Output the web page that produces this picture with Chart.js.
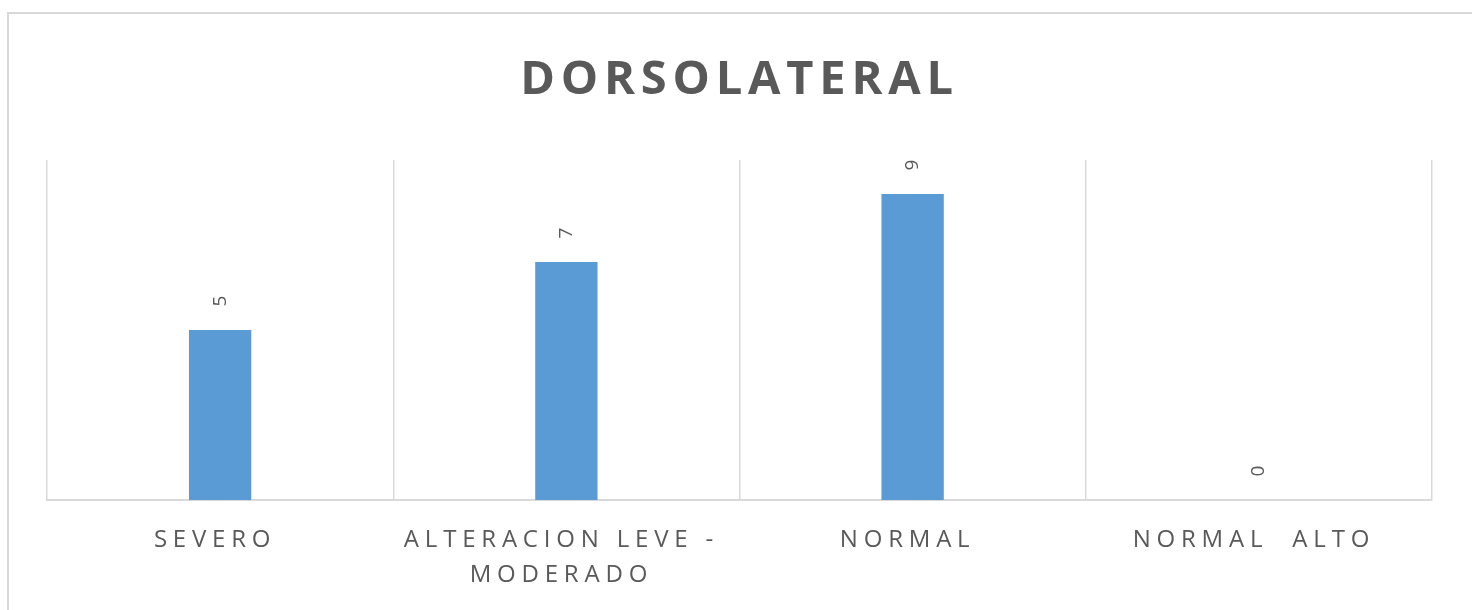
<!DOCTYPE html>
<html>
<head>
<meta charset="utf-8">
<script src="https://cdn.jsdelivr.net/npm/chart.js@4.4.0/dist/chart.umd.min.js"></script>
<style>
  html, body { margin: 0; padding: 0; background: #ffffff; }
  #wrap { width: 1472px; height: 610px; position: relative; }
</style>
</head>
<body>
<div id="wrap"><canvas id="c"></canvas></div>
<script>
const chartTitle = 'DORSOLATERAL';
const categories = ['SEVERO', ['ALTERACION LEVE -', 'MODERADO'], 'NORMAL', 'NORMAL  ALTO'];
const values = [5, 7, 9, 0];
const yMin = 0;
const yMax = 10;

const TEXT = '#595959';
const LINE = '#d9d9d9';
const BAR = '#5b9bd5';

const spacingPlugin = {
  id: 'spacing',
  beforeUpdate(chart) { chart.ctx.letterSpacing = '5.8px'; },
  beforeDraw(chart) {
    const ctx = chart.ctx;
    ctx.letterSpacing = '5.8px';
    ctx.save();
    ctx.strokeStyle = LINE;
    ctx.lineWidth = 2;
    ctx.strokeRect(8, 13, 1500, 700);
    ctx.restore();
  }
};

const valueLabels = {
  id: 'valueLabels',
  afterDatasetsDraw(chart) {
    const ctx = chart.ctx;
    const meta = chart.getDatasetMeta(0);
    ctx.save();
    ctx.letterSpacing = '0px';
    ctx.fillStyle = TEXT;
    ctx.font = '19px "Open Sans"';
    ctx.textAlign = 'center';
    ctx.textBaseline = 'middle';
    meta.data.forEach((bar, i) => {
      ctx.save();
      ctx.translate(bar.x, bar.y - 29);
      ctx.rotate(-Math.PI / 2);
      ctx.fillText(String(values[i]), 0, 0);
      ctx.restore();
    });
    ctx.restore();
  }
};

const chart = new Chart(document.getElementById('c'), {
  type: 'bar',
  data: {
    labels: categories,
    datasets: [{
      data: values,
      backgroundColor: BAR,
      borderWidth: 0,
      barPercentage: 0.9,
      categoryPercentage: 0.2
    }]
  },
  options: {
    responsive: true,
    maintainAspectRatio: false,
    animation: false,
    layout: { padding: { left: 47, right: 40, top: 0, bottom: 0 } },
    plugins: {
      legend: { display: false },
      tooltip: { enabled: false },
      title: {
        display: true,
        text: chartTitle,
        color: TEXT,
        font: { family: '"Open Sans"', size: 47, weight: 'bold', lineHeight: 1.2 },
        padding: { top: 52, bottom: 51.6 }
      }
    },
    scales: {
      x: {
        grid: { display: true, color: LINE, lineWidth: 1.5, offset: true, drawTicks: false },
        border: { display: true, color: LINE, width: 2 },
        ticks: {
          color: TEXT,
          font: { family: '"Open Sans"', size: 24, lineHeight: 1.46 },
          padding: 23,
          labelOffset: -5,
          maxRotation: 0,
          minRotation: 0,
          autoSkip: false
        },
        afterFit(scale) { scale.height = 110; }
      },
      y: {
        display: false,
        min: yMin,
        max: yMax
      }
    }
  },
  plugins: [spacingPlugin, valueLabels]
});
</script>
</body>
</html>
